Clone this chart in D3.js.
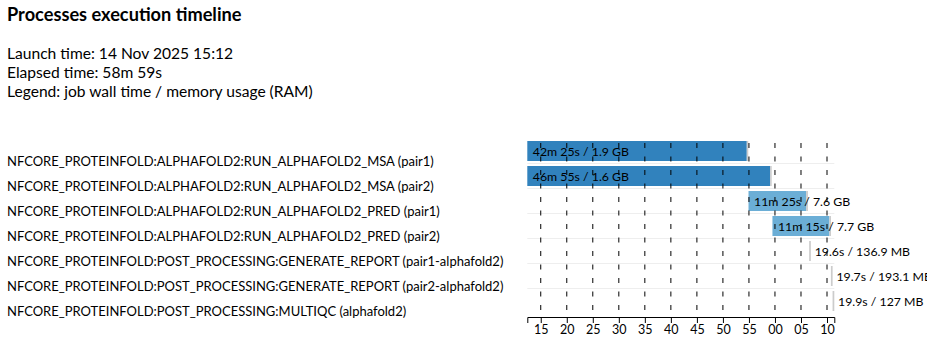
<!DOCTYPE html>
<html>
<head>
<meta charset="utf-8">
<script src="https://cdn.jsdelivr.net/npm/d3@7"></script>
<style>
  body { margin: 0; background: #fff; font-family: Lato, sans-serif; }
  svg { display: block; }
  .axis text { font-family: Lato, sans-serif; font-size: 12.5px; fill: #000; }
</style>
</head>
<body>
<div id="main"></div>
<script>
// task data (seconds are measured from the first submission)
const taskNames = [
    "NFCORE_PROTEINFOLD:ALPHAFOLD2:RUN_ALPHAFOLD2_MSA (pair1)",
    "NFCORE_PROTEINFOLD:ALPHAFOLD2:RUN_ALPHAFOLD2_MSA (pair2)",
    "NFCORE_PROTEINFOLD:ALPHAFOLD2:RUN_ALPHAFOLD2_PRED (pair1)",
    "NFCORE_PROTEINFOLD:ALPHAFOLD2:RUN_ALPHAFOLD2_PRED (pair2)",
    "NFCORE_PROTEINFOLD:POST_PROCESSING:GENERATE_REPORT (pair1-alphafold2)",
    "NFCORE_PROTEINFOLD:POST_PROCESSING:GENERATE_REPORT (pair2-alphafold2)",
    "NFCORE_PROTEINFOLD:POST_PROCESSING:MULTIQC (alphafold2)"
];
const processKey = ["MSA", "MSA", "PRED", "PRED", "REPORT", "REPORT", "MULTIQC"];
const startSec = [0, 0, 2550, 2826, 3249, 3500, 3519];
const wallSec = [2545, 2815, 685, 675, 19.6, 19.7, 19.9];
const realSec = [2530, 2800, 664, 657, 0, 0, 0];
const wallText = ["42m 25s", "46m 55s", "11m 25s", "11m 15s", "19.6s", "19.7s", "19.9s"];
const memText = ["1.9 GB", "1.6 GB", "7.6 GB", "7.7 GB", "136.9 MB", "193.1 MB", "127 MB"];

const launchTime = "14 Nov 2025 15:12";
const elapsedText = "58m 59s";
const firstSubmit = new Date(2025, 10, 14, 15, 12, 25);
const elapsedSec = 58 * 60 + 59;

const colors = {MSA: "#3182bd", PRED: "#6baed6", REPORT: "#9ecae1", MULTIQC: "#c6dbef"};
const tailColor = "#ccc";

const width = 927, height = 339;
const svg = d3.select("#main").append("svg")
    .attr("width", width)
    .attr("height", height);

// header
svg.append("text")
    .attr("x", 7).attr("y", 21)
    .style("font-size", "18.2px").style("font-weight", "bold")
    .text("Processes execution timeline");

let info = ["Launch time: " + launchTime, "Elapsed time: " + elapsedText, "Legend: job wall time / memory usage (RAM)"];
svg.selectAll(".info")
    .data(info)
    .enter().append("text")
    .attr("class", "info")
    .attr("x", 7)
    .attr("y", (d, i) => 59 + i * 19)
    .style("font-size", "15.6px")
    .text(d => d);

const toDate = s => new Date(firstSubmit.getTime() + s * 1000);

const x = d3.scaleTime()
    .domain([firstSubmit, toDate(elapsedSec)])
    .range([527.3, 834.3]);

const y = d3.scaleBand()
    .domain(d3.range(taskNames.length))
    .range([138.5, 313.5]);

const rows = d3.range(taskNames.length);

// task names on the left
svg.selectAll(".name")
    .data(rows)
    .enter().append("text")
    .attr("x", 7)
    .attr("y", d => y(d) + 27.5)
    .style("font-size", "13px")
    .text(d => taskNames[d]);

// row separators
svg.selectAll(".sep")
    .data(rows.slice(1))
    .enter().append("line")
    .attr("x1", x.range()[0]).attr("x2", x.range()[1])
    .attr("y1", d => y(d)).attr("y2", d => y(d))
    .attr("stroke", "#eee");

// running part
svg.selectAll(".run")
    .data(rows)
    .enter().append("rect")
    .attr("x", d => x(toDate(startSec[d])))
    .attr("y", d => y(d) + 2.5)
    .attr("width", d => x(toDate(startSec[d] + realSec[d])) - x(toDate(startSec[d])))
    .attr("height", 20)
    .attr("fill", d => colors[processKey[d]]);

// remaining wall time
svg.selectAll(".tail")
    .data(rows)
    .enter().append("rect")
    .attr("x", d => x(toDate(startSec[d] + realSec[d])))
    .attr("y", d => y(d) + 2.5)
    .attr("width", d => Math.max(1.5, x(toDate(startSec[d] + wallSec[d])) - x(toDate(startSec[d] + realSec[d]))))
    .attr("height", 20)
    .attr("fill", tailColor);

// job labels
svg.selectAll(".lbl")
    .data(rows)
    .enter().append("text")
    .attr("x", d => x(toDate(startSec[d])) + 5.5)
    .attr("y", d => y(d) + 17)
    .style("font-size", "12.3px")
    .text(d => wallText[d] + " / " + memText[d]);

// dashed grid at the ticks
const ticks = x.ticks(d3.timeMinute.every(5));
svg.selectAll(".grid")
    .data(ticks)
    .enter().append("line")
    .attr("x1", d => x(d)).attr("x2", d => x(d))
    .attr("y1", 143).attr("y2", 317)
    .attr("stroke", "#000")
    .attr("stroke-dasharray", "5,8.5");

// time axis
svg.append("g")
    .attr("class", "axis")
    .attr("transform", "translate(0,317)")
    .call(d3.axisBottom(x)
        .ticks(d3.timeMinute.every(5))
        .tickFormat(d3.timeFormat("%M")))
    .call(g => g.selectAll("text").attr("y", 8));
</script>
</body>
</html>
